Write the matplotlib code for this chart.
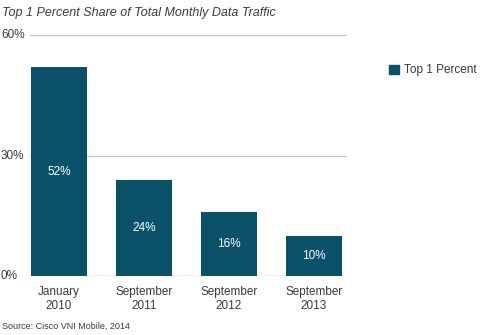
import matplotlib.pyplot as plt
import matplotlib.transforms as mtransforms
import matplotlib.patches as mpatches

categories = ["January\n2010", "September\n2011", "September\n2012", "September\n2013"]
share = [52, 24, 16, 10]
y_ticks = [0, 30, 60]
y_labels = ["0%", "30%", "60%"]
series_name = "Top 1 Percent"

bar_color = "#0b5169"
text_color = "#3a3a3a"
grid_color = "#c4c4c4"

plt.rcParams['font.family'] = ['Liberation Sans', 'DejaVu Sans']

fig = plt.figure(figsize=(4.84, 3.35), dpi=100)
ax = fig.add_axes([0.062, 0.176, 0.655, 0.7194])

x = range(len(categories))
bars = ax.bar(x, share, width=0.66, color=bar_color, zorder=2)

# value labels sit in the middle of each bar
for b, v in zip(bars, share):
    ax.text(b.get_x() + b.get_width() / 2, v / 2, f"{v}%", ha='center', va='center',
            color='white', fontsize=8.5)

ax.set_ylim(0, 60)
ax.set_xlim(-0.34, 3.39)
ax.set_yticks(y_ticks)
ax.set_yticklabels([])
ax.tick_params(axis='both', length=0)
ax.yaxis.grid(True, color=grid_color, linewidth=1, zorder=0)
for s in ax.spines.values():
    s.set_visible(False)

ax.set_xticks(list(x))
ax.set_xticklabels(categories, fontsize=8.5, color=text_color, linespacing=1.2)
ax.tick_params(axis='x', pad=7)

# y labels flush with the left edge of the figure
trans = mtransforms.blended_transform_factory(fig.transFigure, ax.transData)
for yv, lab in zip(y_ticks, y_labels):
    ax.text(0.002, yv, lab, transform=trans, ha='left', va='center',
            fontsize=8.5, color=text_color)

fig.text(0.004, 0.98, "Top 1 Percent Share of Total Monthly Data Traffic",
         ha='left', va='top', fontsize=9, style='italic', color=text_color)
fig.text(0.004, 0.012, "Source: Cisco VNI Mobile, 2014", ha='left', va='bottom',
         fontsize=6.5, color=text_color)

handle = mpatches.Patch(color=bar_color, label=series_name)
fig.legend(handles=[handle], loc='center left', bbox_to_anchor=(0.799, 0.79),
           frameon=False, fontsize=8.5, handlelength=0.8, handleheight=0.8,
           handletextpad=0.5, borderaxespad=0, borderpad=0.2, labelcolor=text_color)

fig.savefig("out.png", dpi=100)
